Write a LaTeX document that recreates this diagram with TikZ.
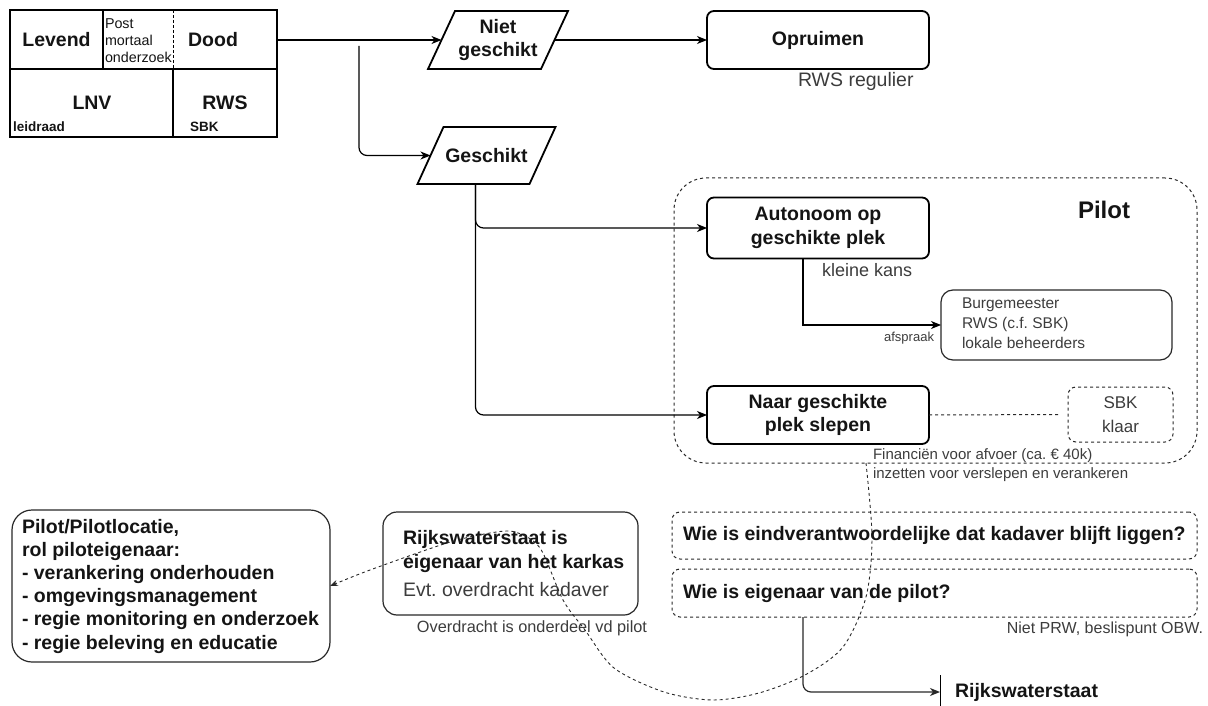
\documentclass[tikz,border=0pt]{standalone}
\usepackage{fontspec}
\setmainfont{Liberation Sans}
\usetikzlibrary{arrows.meta,calc}
\definecolor{tgray}{RGB}{60,60,60}
\definecolor{bgray}{RGB}{40,40,40}
\definecolor{tblack}{RGB}{20,20,20}
\newcommand{\fsz}[2]{\fontsize{#1}{#2}\selectfont}
\frenchspacing
\begin{document}
\begin{tikzpicture}[x=1pt,y=-1pt,
  every node/.style={inner sep=0pt, outer sep=0pt},
  lbl/.style={font=\fsz{19.5}{23.4}\bfseries, align=center, text=tblack},
  note/.style={font=\fsz{19.5}{23.4}, text=tgray},
  tbox/.style={draw, line width=1.8pt, rounded corners=7pt},
  sbox/.style={draw=bgray, line width=1.2pt, rounded corners=14pt},
  dbox/.style={draw=bgray, line width=1pt, dash pattern=on 3pt off 3pt, rounded corners=8pt},
  conn/.style={line width=1.2pt, -{Stealth[length=10pt,width=8pt,inset=3pt]}},
  tline/.style={line width=1.8pt},
]
\useasboundingbox (0,0) rectangle (1208,706);

% table
\node[draw, line width=1.8pt, minimum width=267, minimum height=127] (tab) at (143.5,73.5) {};
\draw[tline] (10,69) -- (277,69);
\draw[tline] (103,10) -- (103,69);
\draw[line width=1pt, dash pattern=on 3pt off 2pt] (173,10) -- (173,69);
\draw[tline] (173,69) -- (173,137);
\node[lbl] (levend) at (56.5,40) {Levend};
\node[font=\fsz{14.3}{17}, anchor=west, align=left, text=tblack] (pm) at (105,41) {Post\\mortaal\\onderzoek};
\node[lbl] (dood) at (213,40) {Dood};
\node[lbl] (lnv) at (92,103) {LNV};
\node[font=\fsz{13.5}{16}\bfseries, anchor=west, text=tblack] (leid) at (13,127) {leidraad};
\node[lbl] (rws) at (225,103) {RWS};
\node[font=\fsz{13.5}{16}\bfseries, anchor=west, text=tblack] (sbk0) at (190,127) {SBK};

% parallelograms
\node[lbl, minimum width=113, minimum height=58] (ng) at (498,40) {Niet\\geschikt};
\draw[tline] ([xshift=-13.5pt]ng.south west) -- ([xshift=13.5pt]ng.north west) -- ([xshift=13.5pt]ng.north east) -- ([xshift=-13.5pt]ng.south east) -- cycle;
\node[lbl, minimum width=112, minimum height=57] (gs) at (486.5,155.5) {Geschikt};
\draw[tline] ([xshift=-13pt]gs.south west) -- ([xshift=13pt]gs.north west) -- ([xshift=13pt]gs.north east) -- ([xshift=-13pt]gs.south east) -- cycle;

% Opruimen
\node[tbox, lbl, minimum width=222, minimum height=58] (opr) at (818,40) {Opruimen};
\node[note, anchor=west] (rwsreg) at (798,81) {RWS regulier};

\draw[conn] (tab.east |- dood) -- (ng.west);
\draw[conn] (ng.east) -- (opr.west);
\coordinate (br) at (359,46);
\draw[conn, rounded corners=8pt] (br) |- (gs.west);

% Pilot container
\node[dbox, rounded corners=32pt, minimum width=523, minimum height=285] (pilot) at (935.5,320.5) {};
\node[font=\fsz{24}{28}\bfseries, text=tblack] (pilotlbl) at (1104,210) {Pilot};

\node[tbox, lbl, minimum width=222, minimum height=61] (auto) at (818,228) {Autonoom op\\geschikte plek};
\node[tbox, lbl, minimum width=222, minimum height=58] (naar) at (818,415) {Naar geschikte\\plek slepen};
\path (gs.south) ++(-11,0) coordinate (gsout);
\draw[conn, rounded corners=8pt] (gsout) |- (auto.west);
\draw[conn, rounded corners=8pt] (gsout) |- (naar.west);

\node[note, font=\fsz{18}{21}, anchor=west] (kk) at (822,270) {kleine kans};

\node[sbox, rounded corners=12pt, minimum width=231, minimum height=70] (burg) at (1056.5,325) {};
\node[anchor=west, align=left, font=\fsz{15.5}{20}, text=tgray] (burgt) at (962,323) {Burgemeester\\RWS (c.f. SBK)\\lokale beheerders};
\path (auto.south) ++(-15,0) coordinate (aout);
\draw[conn] (aout) |- (burg.west);
\node[anchor=east, font=\fsz{13}{15}, text=tgray] (afs) at (934,338) {afspraak};

\node[dbox, minimum width=105, minimum height=55, align=center, font=\fsz{17}{24}, text=tgray] (sbk) at (1120.5,414.5) {SBK\\klaar};
\draw[line width=1pt, draw=bgray, dash pattern=on 3pt off 3pt, shorten >=8pt] (naar.east) -- (sbk.west);

\node[anchor=west, align=left, font=\fsz{15}{19}, text=tgray] (fin) at (873,465.5) {Financiën voor afvoer (ca. € 40k)\\inzetten voor verslepen en verankeren};

% questions
\node[dbox, minimum width=525, minimum height=47] (wie1) at (934.5,535.5) {};
\node[lbl, anchor=west] (wie1t) at ([xshift=11pt]wie1.west) {Wie is eindverantwoordelijke dat kadaver blijft liggen?};
\node[dbox, minimum width=525, minimum height=48] (wie2) at (934.5,593) {};
\node[lbl, anchor=west] (wie2t) at ([xshift=11pt]wie2.west) {Wie is eigenaar van de pilot?};
\node[anchor=east, font=\fsz{16}{19}, text=tgray] (prw) at (1203,629) {Niet PRW, beslispunt OBW.};

\node[lbl, anchor=west, minimum height=34, inner xsep=15pt] (rwe) at (940,692) {Rijkswaterstaat};
\draw[line width=1pt] (rwe.north west) -- (rwe.south west);
\path (wie2.south) ++(-131.5,0) coordinate (w2out);
\draw[conn, draw=bgray, rounded corners=8pt] (w2out) |- (rwe.west);

% bottom left
\node[sbox, minimum width=255, minimum height=103] (rijks) at (510.5,563.5) {};
\node[anchor=west, align=left, font=\fsz{19.5}{24}, text=tblack] (rijkst) at (403,564) {\textbf{Rijkswaterstaat is}\\\textbf{eigenaar van het karkas}\\[4pt]\textcolor{tgray}{Evt. overdracht kadaver}};
\node[font=\fsz{16.3}{19}, text=tgray] (ovd) at (532,628) {Overdracht is onderdeel vd pilot};

\node[sbox, rounded corners=20pt, minimum width=318, minimum height=152] (ploc) at (171,586) {};
\node[anchor=west, align=left, font=\fsz{19.5}{23.2}\bfseries, text=tblack] (ploct) at (22,586) {Pilot/Pilotlocatie,\\rol piloteigenaar:\\- verankering onderhouden\\- omgevingsmanagement\\- regie monitoring en onderzoek\\- regie beleving en educatie};

% dashed curve
\coordinate (cs) at (866,463);
\draw[line width=0.9pt, draw=bgray, dash pattern=on 3pt off 3pt, -{Stealth[length=8pt,width=6pt]}] plot[smooth, tension=0.5] coordinates {(cs) (872,537) (866,597) (843,647) (805,675) (759,693) (713,700) (664,692) (614,668) (585,630) (563,600) (540,548) (515,532) (490,533) (447,543) (370,570) (ploc.east)};
\end{tikzpicture}
\end{document}
